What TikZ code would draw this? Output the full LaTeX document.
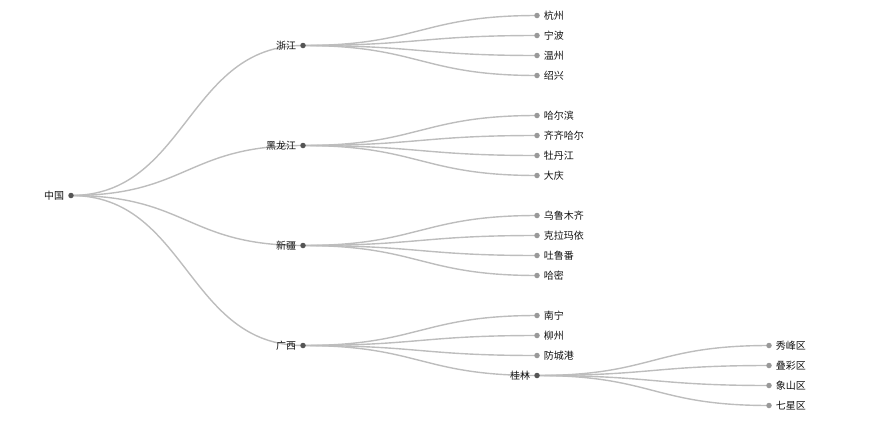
\documentclass[tikz,border=0pt]{standalone}
\usepackage{fontspec}
\setmainfont{Noto Sans CJK SC}
\usepackage{xcolor}
\usepackage{tikz}
\usetikzlibrary{backgrounds}

\definecolor{linkgray}{HTML}{BDBDBD}
\definecolor{innergray}{HTML}{555555}
\definecolor{leafgray}{HTML}{999999}
\definecolor{textgray}{HTML}{111111}

\begin{document}
\begin{tikzpicture}[x=1pt, y=-1pt,
    innerdot/.style={circle, fill=innergray, inner sep=0pt, minimum size=5.5pt},
    leafdot/.style={circle, fill=leafgray, inner sep=0pt, minimum size=5.5pt},
    lab/.style={font=\fontsize{10}{12}\selectfont, text=textgray, label distance=0.5pt},
    link/.style={draw=linkgray, line width=1.4pt}]
    \useasboundingbox (0,0) rectangle (887,426);

    % 1. Gốc và các tỉnh
    \node[innerdot, label={[lab]left:中国}] (cn) at (71,195.5) {};
    \node[innerdot, label={[lab]left:浙江}] (zj) at (303,45.5) {};
    \node[innerdot, label={[lab]left:黑龙江}] (hlj) at (303,145.5) {};
    \node[innerdot, label={[lab]left:新疆}] (xj) at (303,245.5) {};
    \node[innerdot, label={[lab]left:广西}] (gx) at (303,345.5) {};

    % 2. Các thành phố
    \node[leafdot, label={[lab]right:杭州}] (hz) at (537,15.5) {};
    \node[leafdot, label={[lab]right:宁波}] (nb) at (537,35.5) {};
    \node[leafdot, label={[lab]right:温州}] (wz) at (537,55.5) {};
    \node[leafdot, label={[lab]right:绍兴}] (sx) at (537,75.5) {};
    \node[leafdot, label={[lab]right:哈尔滨}] (heb) at (537,115.5) {};
    \node[leafdot, label={[lab]right:齐齐哈尔}] (qqhe) at (537,135.5) {};
    \node[leafdot, label={[lab]right:牡丹江}] (mdj) at (537,155.5) {};
    \node[leafdot, label={[lab]right:大庆}] (dq) at (537,175.5) {};
    \node[leafdot, label={[lab]right:乌鲁木齐}] (wlmq) at (537,215.5) {};
    \node[leafdot, label={[lab]right:克拉玛依}] (klmy) at (537,235.5) {};
    \node[leafdot, label={[lab]right:吐鲁番}] (tlf) at (537,255.5) {};
    \node[leafdot, label={[lab]right:哈密}] (hm) at (537,275.5) {};
    \node[leafdot, label={[lab]right:南宁}] (nn) at (537,315.5) {};
    \node[leafdot, label={[lab]right:柳州}] (lz) at (537,335.5) {};
    \node[leafdot, label={[lab]right:防城港}] (fcg) at (537,355.5) {};
    \node[innerdot, label={[lab]left:桂林}] (gl) at (537,375.5) {};

    % 3. Các quận của Quế Lâm
    \node[leafdot, label={[lab]right:秀峰区}] (xfq) at (769,345.5) {};
    \node[leafdot, label={[lab]right:叠彩区}] (dcq) at (769,365.5) {};
    \node[leafdot, label={[lab]right:象山区}] (xsq) at (769,385.5) {};
    \node[leafdot, label={[lab]right:七星区}] (qxq) at (769,405.5) {};

    % 4. Nối các nút bằng đường cong
    \begin{scope}[on background layer]
        \foreach \a/\b in {cn/zj, cn/hlj, cn/xj, cn/gx,
            zj/hz, zj/nb, zj/wz, zj/sx,
            hlj/heb, hlj/qqhe, hlj/mdj, hlj/dq,
            xj/wlmq, xj/klmy, xj/tlf, xj/hm,
            gx/nn, gx/lz, gx/fcg, gx/gl,
            gl/xfq, gl/dcq, gl/xsq, gl/qxq}
            \draw[link] (\a.center) .. controls +(116,0) and +(-116,0) .. (\b.center);
    \end{scope}
\end{tikzpicture}
\end{document}
